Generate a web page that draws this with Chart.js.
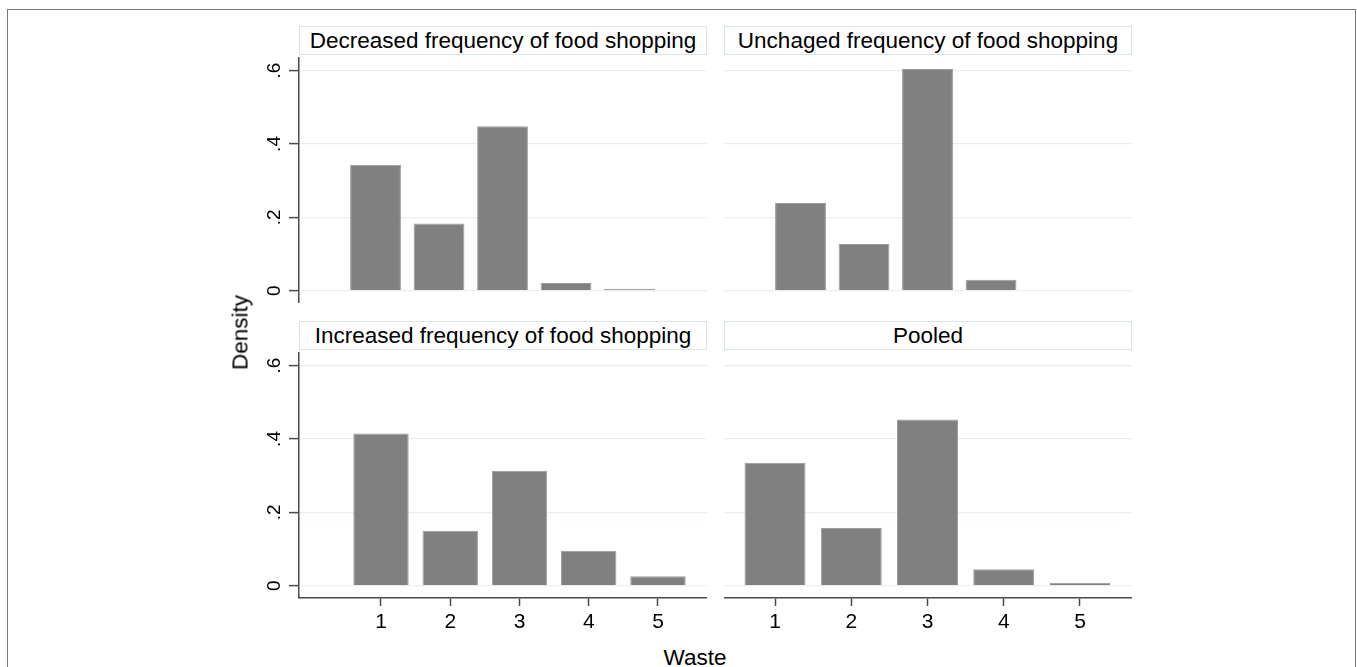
<!DOCTYPE html>
<html>
<head>
<meta charset="utf-8">
<script src="https://cdn.jsdelivr.net/npm/chart.js"></script>
<style>
  html, body { margin: 0; padding: 0; background: #fff; overflow: hidden; }
  body { width: 1357px; height: 667px; position: relative; font-family: 'Liberation Sans', Arial, sans-serif; }
  .frame { position: absolute; left: 7px; top: 9px; width: 1349px; height: 720px; box-sizing: border-box; border: 1.5px solid #7a7a7a; }
  .panel { position: absolute; }
  .ptitle { position: absolute; box-sizing: border-box; border: 1px solid #d8e5ea; background: #fff;
            text-align: center; font-size: 22.5px; line-height: 27px; color: #000; white-space: nowrap; }
  .axtitle { position: absolute; font-size: 22.5px; line-height: 27px; color: #000; text-align: center; white-space: nowrap; }
</style>
</head>
<body>
<div class="frame"></div>
<div id="root"></div>
<script>
// ---------------- data ----------------
const wasteLevels = [1, 2, 3, 4, 5];
const decreasedFreq = [0.343, 0.183, 0.448, 0.021, 0.005];
const unchangedFreq = [0.239, 0.127, 0.604, 0.030, null];
const increasedFreq = [0.415, 0.150, 0.313, 0.095, 0.026];
const pooledFreq    = [0.335, 0.157, 0.453, 0.045, 0.008];
const yTickValues = [0, 0.2, 0.4, 0.6];
const yTickLabels = ['0', '.2', '.4', '.6'];
const panelTitles = [
  'Decreased frequency of food shopping',
  'Unchaged frequency of food shopping',
  'Increased frequency of food shopping',
  'Pooled'
];
const yAxisTitle = 'Density';
const xAxisTitle = 'Waste';

// ---------------- layout / style ----------------
const FONT = "'Liberation Sans', Arial, sans-serif";
Chart.defaults.font.family = FONT;
const BAR_FILL = '#808080';
const BAR_EDGE = '#9c9c9c';
const GRID = '#e6eff2';
const AXIS = '#4a4a4a';
const Y_MIN = -0.0335, Y_MAX = 0.637;

const panels = [
  { title: panelTitles[0], values: decreasedFreq, left: 250, top: 57, yAxisW: 49, xAxis: false, xMin: -0.205, xMax: 6.22, titleTop: 26 },
  { title: panelTitles[1], values: unchangedFreq, left: 724, top: 57, yAxisW: 0,  xAxis: false, xMin: -0.205, xMax: 6.22, titleTop: 26 },
  { title: panelTitles[2], values: increasedFreq, left: 250, top: 352, yAxisW: 49, xAxis: true, xMin: -0.184, xMax: 5.708, titleTop: 321 },
  { title: panelTitles[3], values: pooledFreq,    left: 724, top: 352, yAxisW: 0,  xAxis: true, xMin: 0.331, xMax: 5.682, titleTop: 321 }
];
const PLOT_W = 408, PLOT_H = 246, X_AXIS_H = 46;

const root = document.getElementById('root');

function addDiv(cls, text, css) {
  const d = document.createElement('div');
  d.className = cls;
  d.textContent = text;
  Object.assign(d.style, css);
  root.appendChild(d);
  return d;
}

panels.forEach((p, idx) => {
  const plotLeft = p.left + p.yAxisW;
  addDiv('ptitle', p.title, { left: plotLeft + 'px', top: p.titleTop + 'px', width: PLOT_W + 'px', height: '29px' });

  const w = p.yAxisW + PLOT_W;
  const h = PLOT_H + (p.xAxis ? X_AXIS_H : 0);
  const wrap = document.createElement('div');
  wrap.className = 'panel';
  Object.assign(wrap.style, { left: p.left + 'px', top: p.top + 'px', width: w + 'px', height: h + 'px' });
  const cv = document.createElement('canvas');
  cv.width = w; cv.height = h;
  cv.style.width = w + 'px'; cv.style.height = h + 'px';
  wrap.appendChild(cv);
  root.appendChild(wrap);

  const showY = p.yAxisW > 0;

  new Chart(cv, {
    type: 'bar',
    data: {
      datasets: [{
        data: wasteLevels.map((x, i) => ({ x: x, y: p.values[i] })),
        backgroundColor: BAR_FILL,
        borderColor: BAR_EDGE,
        borderWidth: 1,
        barPercentage: 0.8,
        categoryPercentage: 1.0
      }]
    },
    options: {
      responsive: false,
      animation: false,
      layout: { padding: 0 },
      plugins: { legend: { display: false }, tooltip: { enabled: false }, title: { display: false } },
      scales: {
        x: {
          type: 'linear',
          display: p.xAxis,
          min: p.xMin, max: p.xMax,
          offset: false,
          afterBuildTicks: s => { s.ticks = wasteLevels.map(v => ({ value: v })); },
          afterFit: s => { s.height = p.xAxis ? X_AXIS_H : 0; s.paddingLeft = 0; s.paddingRight = 0; },
          ticks: { color: '#000', font: { size: 21 }, padding: 4, maxRotation: 0, minRotation: 0, autoSkip: false,
                   callback: (v, i) => String(wasteLevels[i]) },
          grid: { drawOnChartArea: false, drawTicks: true, tickLength: 8, tickColor: AXIS, tickWidth: 1.5, offset: false },
          border: { display: true, color: AXIS, width: 1.5 }
        },
        y: {
          type: 'linear',
          display: true,
          min: Y_MIN, max: Y_MAX,
          afterBuildTicks: s => { s.ticks = yTickValues.map(v => ({ value: v })); },
          afterFit: s => { s.width = p.yAxisW; s.paddingTop = 0; s.paddingBottom = 0; },
          ticks: { display: showY, color: '#000', font: { size: 19 }, minRotation: 90, maxRotation: 90,
                   crossAlign: 'center', padding: 6, callback: (v, i) => yTickLabels[i] },
          grid: { display: true, color: GRID, lineWidth: 1.2, drawTicks: showY, tickLength: 10, tickColor: AXIS, tickWidth: 1.5 },
          border: { display: showY, color: AXIS, width: 1.5 }
        }
      }
    }
  });
});

// axis titles
addDiv('axtitle', yAxisTitle, { left: '180px', top: '318.5px', width: '120px', height: '27px', transform: 'rotate(-90deg)' });
addDiv('axtitle', xAxisTitle, { left: '635px', top: '643.5px', width: '120px', height: '27px' });
</script>
</body>
</html>
